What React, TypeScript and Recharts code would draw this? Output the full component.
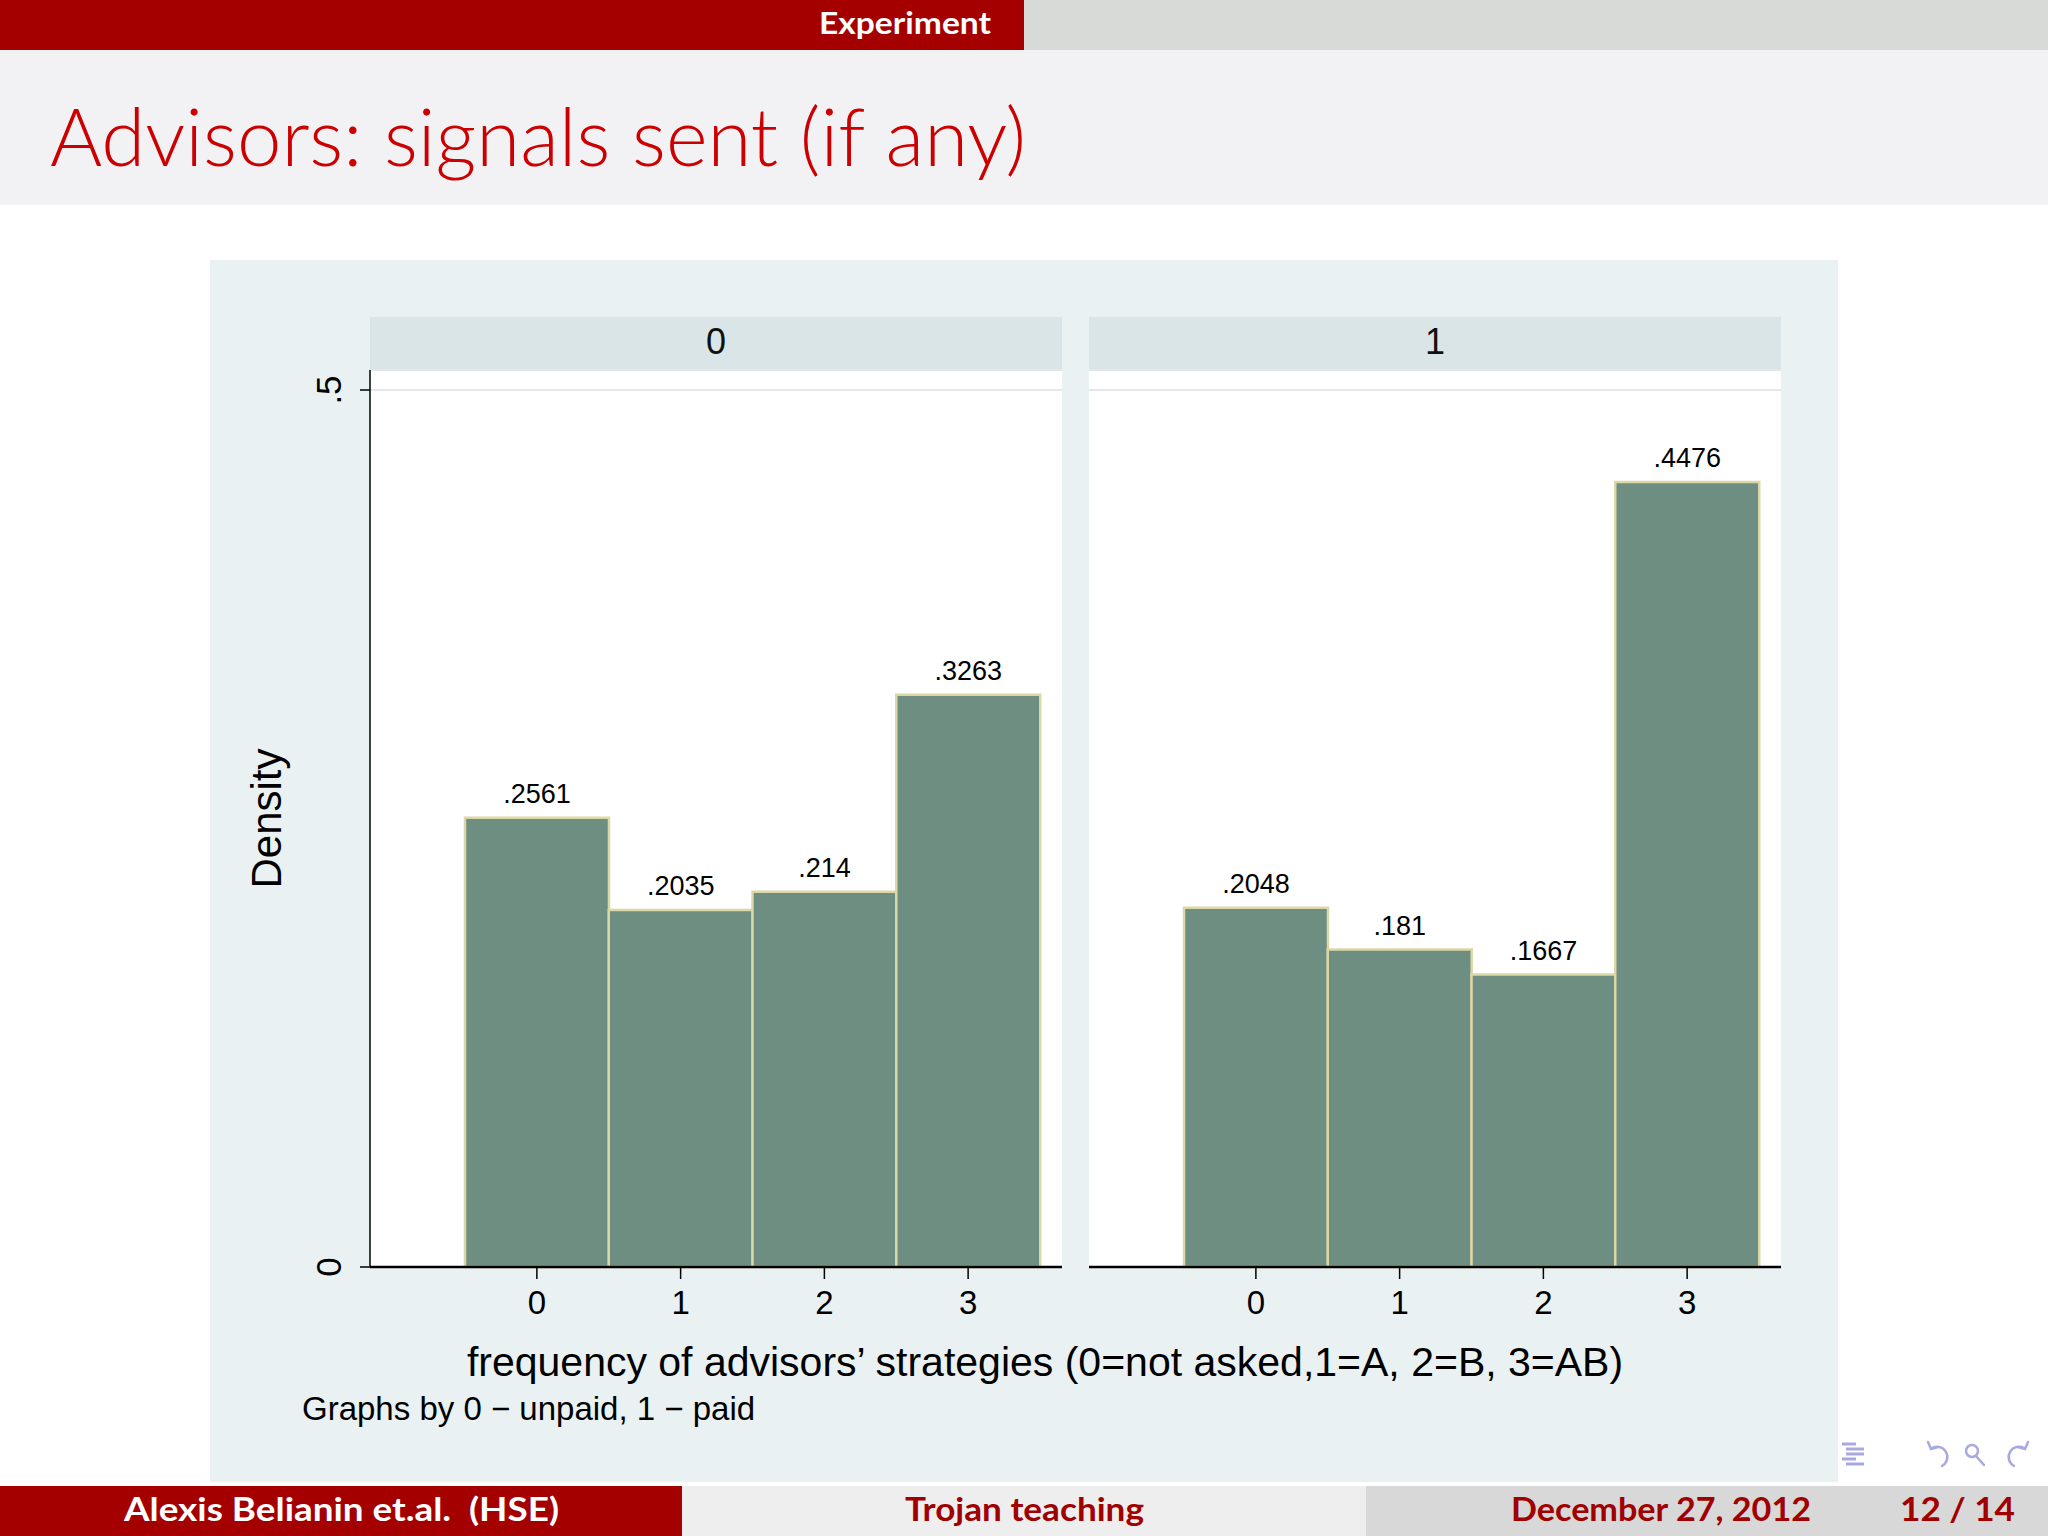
import React from "react";
import { BarChart, Bar, XAxis, YAxis, CartesianGrid, LabelList } from "recharts";

// histogram bins and densities
const bins = ["0", "1", "2", "3"];
const unpaidDensity = [0.2561, 0.2035, 0.214, 0.3263];
const paidDensity = [0.2048, 0.181, 0.1667, 0.4476];
const panelLabels = ["0", "1"];
const yTicks = [0, 0.5];
const yMax = 0.5114;

const FONT = '"Liberation Sans", Arial, sans-serif';
const SLIDE_FONT = 'Lato, "Open Sans", sans-serif';

const fmt = (v: any) => String(v).replace(/^0\./, ".");

const YTick = ({ x, y, payload }: any) => (
  <text
    x={x}
    y={y}
    transform={`rotate(-90 ${x} ${y})`}
    textAnchor="middle"
    fontSize={35}
    fontFamily={FONT}
    fill="#000"
  >
    {fmt(payload.value)}
  </text>
);

const DensityLabel = ({ viewBox }: any) => {
  const x = viewBox.x + 71;
  const y = viewBox.y + viewBox.height / 2;
  return (
    <text
      x={x}
      y={y}
      transform={`rotate(-90 ${x} ${y})`}
      textAnchor="middle"
      fontSize={42}
      fontFamily={FONT}
      fill="#000"
    >
      Density
    </text>
  );
};

function Panel({ values, label, left, width, showY }: any) {
  const data = bins.map((b, i) => ({ bin: b, density: values[i] }));
  const yAxisW = showY ? 160 : 0;
  return (
    <>
      <div
        style={{
          position: "absolute",
          left: left + yAxisW,
          top: 317,
          width: width - yAxisW,
          height: 53,
          background: "#dae5e8",
          fontFamily: FONT,
          fontSize: 36,
          lineHeight: "50px",
          textAlign: "center",
          color: "#111",
        }}
      >
        {label}
      </div>
      <div style={{ position: "absolute", left, top: 360 }}>
        <BarChart
          width={width}
          height={977}
          data={data}
          margin={{ top: 10, right: 0, bottom: 0, left: 0 }}
          barCategoryGap={0}
          barGap={0}
        >
          <CartesianGrid vertical={false} stroke="#e4e6ea" strokeWidth={2} fill="#ffffff" />
          <XAxis
            dataKey="bin"
            height={70}
            padding={{ left: 95, right: 22 }}
            axisLine={{ stroke: "#000", strokeWidth: 2.5 }}
            tickLine={{ stroke: "#000", strokeWidth: 1.5 }}
            tickSize={12}
            tickMargin={12}
            tick={{ fontSize: 33, fontFamily: FONT, fill: "#000" }}
          />
          <YAxis
            hide={!showY}
            width={yAxisW}
            domain={[0, yMax]}
            ticks={yTicks}
            interval={0}
            axisLine={{ stroke: "#000", strokeWidth: 1.5 }}
            tickLine={{ stroke: "#000", strokeWidth: 1.5 }}
            tickSize={10}
            tickMargin={19}
            tick={<YTick />}
            label={showY ? { content: <DensityLabel /> } : undefined}
          />
          <Bar
            dataKey="density"
            fill="#6f8e82"
            stroke="#dcd8a6"
            strokeWidth={2.5}
            isAnimationActive={false}
          >
            <LabelList
              dataKey="density"
              position="top"
              offset={15}
              formatter={fmt}
              style={{ fontSize: 27, fontFamily: FONT, fill: "#000" }}
            />
          </Bar>
        </BarChart>
      </div>
    </>
  );
}

function NavIcons() {
  const c = "#a9a9e2";
  return (
    <svg width={210} height={40} style={{ position: "absolute", left: 1838, top: 1436 }}>
      <g stroke={c} strokeWidth={3}>
        <line x1={4} y1={8} x2={18} y2={8} />
        <line x1={8} y1={13} x2={26} y2={13} />
        <line x1={8} y1={18} x2={26} y2={18} />
        <line x1={4} y1={23} x2={18} y2={23} />
        <line x1={8} y1={28} x2={26} y2={28} />
      </g>
      <g stroke={c} strokeWidth={2.5} fill="none" strokeLinecap="round">
        {/* back */}
        <path d="M 94 12 A 10 10 0 1 1 104 30" />
        <path d="M 90 6 L 93 13 L 100 11" />
        {/* zoom */}
        <circle cx={134} cy={15} r={6} />
        <line x1={138} y1={20} x2={146} y2={29} />
        {/* forward */}
        <path d="M 186 12 A 10 10 0 1 0 176 30" />
        <path d="M 190 6 L 187 13 L 180 11" />
      </g>
    </svg>
  );
}

export default function App() {
  return (
    <div
      style={{
        position: "relative",
        width: 2048,
        height: 1536,
        background: "#ffffff",
        overflow: "hidden",
      }}
    >
      <style>{"body{margin:0}"}</style>
      <svg width={2048} height={1536} style={{ position: "absolute", left: 0, top: 0 }}>
        {/* header */}
        <rect x={0} y={0} width={1024} height={50} fill="#a50000" />
        <rect x={1024} y={0} width={1024} height={50} fill="#d8dad7" />
        <text x={819} y={34} fontSize={30} fontWeight={700} fill="#fff" fontFamily={SLIDE_FONT}
          textLength={172} lengthAdjust="spacingAndGlyphs">
          Experiment
        </text>
        <rect x={0} y={50} width={2048} height={155} fill="#f2f1f3" />
        <text
          x={50}
          y={166}
          fontSize={80}
          fontWeight={300}
          fill="#cc0000"
          fontFamily={SLIDE_FONT}
          textLength={976}
          lengthAdjust="spacingAndGlyphs"
        >
          Advisors: signals sent (if any)
        </text>
        {/* graph region */}
        <rect x={210} y={260} width={1628} height={1222} fill="#eaf1f2" />
        <text x={1045} y={1376} textAnchor="middle" fontSize={41} fontFamily={FONT} fill="#000">
          frequency of advisors’ strategies (0=not asked,1=A, 2=B, 3=AB)
        </text>
        <text x={302} y={1420} fontSize={33} fontFamily={FONT} fill="#000">
          Graphs by 0 − unpaid, 1 − paid
        </text>
        {/* footer */}
        <rect x={0} y={1486} width={682} height={50} fill="#a50000" />
        <rect x={682} y={1486} width={684} height={50} fill="#eeeeee" />
        <rect x={1366} y={1486} width={682} height={50} fill="#d8d8d8" />
        <text x={124} y={1521} fontSize={32} fontWeight={700} fill="#fff" fontFamily={SLIDE_FONT}
          textLength={435} lengthAdjust="spacingAndGlyphs" style={{ whiteSpace: "pre" }}>
          {"Alexis Belianin et.al.  (HSE)"}
        </text>
        <text x={905} y={1521} fontSize={32} fontWeight={700} fill="#a00000" fontFamily={SLIDE_FONT}
          textLength={239} lengthAdjust="spacingAndGlyphs">
          Trojan teaching
        </text>
        <text x={1511} y={1521} fontSize={32} fontWeight={700} fill="#a00000" fontFamily={SLIDE_FONT}
          textLength={300} lengthAdjust="spacingAndGlyphs">
          December 27, 2012
        </text>
        <text x={1900} y={1521} fontSize={32} fontWeight={700} fill="#a00000" fontFamily={SLIDE_FONT}
          textLength={115} lengthAdjust="spacingAndGlyphs">
          12 / 14
        </text>
      </svg>
      <Panel values={unpaidDensity} label={panelLabels[0]} left={210} width={852} showY />
      <Panel values={paidDensity} label={panelLabels[1]} left={1089} width={692} showY={false} />
      <NavIcons />
    </div>
  );
}
